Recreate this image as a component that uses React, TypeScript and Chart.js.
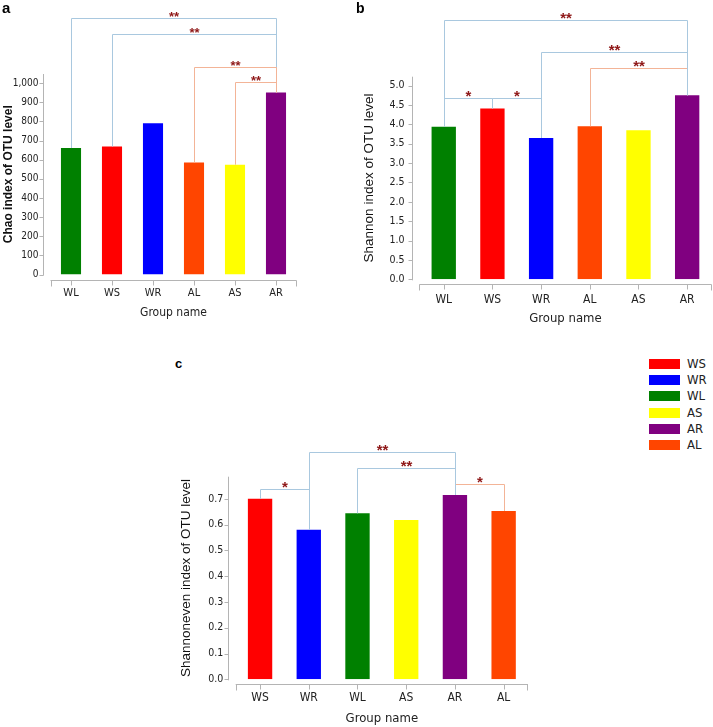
import React, { useEffect, useRef } from "react";
import { Chart, registerables } from "chart.js";

Chart.register(...registerables);

// ---------- data ----------
const chaoGroups = ["WL", "WS", "WR", "AL", "AS", "AR"];
const chaoValues = [661, 669, 791, 586, 574, 951];
const chaoTicks = [0, 100, 200, 300, 400, 500, 600, 700, 800, 900, 1000];

const shannonGroups = ["WL", "WS", "WR", "AL", "AS", "AR"];
const shannonValues = [3.94, 4.41, 3.65, 3.95, 3.85, 4.75];
const shannonTicks = [0, 0.5, 1, 1.5, 2, 2.5, 3, 3.5, 4, 4.5, 5];

const evenGroups = ["WS", "WR", "WL", "AS", "AR", "AL"];
const evenValues = [0.7, 0.58, 0.644, 0.618, 0.715, 0.653];
const evenTicks = [0, 0.1, 0.2, 0.3, 0.4, 0.5, 0.6, 0.7];

const legendGroups = ["WS", "WR", "WL", "AS", "AR", "AL"];

const groupColors: Record<string, string> = {
  WL: "#008000",
  WS: "#ff0000",
  WR: "#0000ff",
  AL: "#ff4500",
  AS: "#ffff00",
  AR: "#800080",
};

type Bracket = { from: string; to: string; level: number; mark: string; tone: "blue" | "orange" };

// significance brackets (level = height in data units)
const chaoBrackets: Bracket[] = [
  { from: "WL", to: "AR", level: 1339, mark: "**", tone: "blue" },
  { from: "WS", to: "AR", level: 1256, mark: "**", tone: "blue" },
  { from: "AL", to: "AR", level: 1086, mark: "**", tone: "orange" },
  { from: "AS", to: "AR", level: 1006, mark: "**", tone: "orange" },
];
const shannonBrackets: Bracket[] = [
  { from: "AL", to: "AR", level: 5.45, mark: "**", tone: "orange" },
  { from: "WL", to: "WS", level: 4.67, mark: "*", tone: "blue" },
  { from: "WS", to: "WR", level: 4.67, mark: "*", tone: "blue" },
  { from: "WR", to: "AR", level: 5.86, mark: "**", tone: "blue" },
  { from: "WL", to: "AR", level: 6.69, mark: "**", tone: "blue" },
];
const evenBrackets: Bracket[] = [
  { from: "AR", to: "AL", level: 0.756, mark: "*", tone: "orange" },
  { from: "WS", to: "WR", level: 0.739, mark: "*", tone: "blue" },
  { from: "WL", to: "AR", level: 0.818, mark: "**", tone: "blue" },
  { from: "WR", to: "AR", level: 0.882, mark: "**", tone: "blue" },
];

// ---------- styles ----------
const NARROW = "'Liberation Sans Narrow', 'DejaVu Sans Condensed', 'Liberation Sans', sans-serif";
const SANS = "'Liberation Sans', Arial, sans-serif";
const AXIS_COLOR = "#b4b4b4";
const TONES = { blue: "#a9c8df", orange: "#f3b497" };
const STAR_COLOR = "#8e1717";

type PanelSpec = {
  left: number;
  top: number;
  width: number;
  height: number;
  groups: string[];
  values: number[];
  ticks: number[];
  max: number;
  fmt: (v: number) => string;
  yTitle: string;
  yTitleBold: boolean;
  yTitleSize: number;
  yTitlePad: number;
  tickSize: number;
  xLabelSize: number;
  xTitleSize: number;
  pad: { top: number; left: number; right: number; bottom: number };
  yWidth: number;
  yTickPad: number;
  xHeight: number;
  xTickPad: number;
  barPct: number;
  brackets: Bracket[];
  starSize: number;
};

function decorPlugin(spec: PanelSpec) {
  return {
    id: "decor",
    afterDraw(chart: any) {
      const ctx: CanvasRenderingContext2D = chart.ctx;
      const xs = chart.scales.x;
      const ys = chart.scales.y;
      const { left, right, top, bottom } = chart.chartArea;
      ctx.save();
      ctx.lineWidth = 1;
      ctx.strokeStyle = AXIS_COLOR;
      ctx.beginPath();
      const ax = Math.round(left - 7.5) + 0.5;
      ctx.moveTo(ax, top);
      ctx.lineTo(ax, bottom + 1);
      for (const t of ys.ticks) {
        const py = Math.round(ys.getPixelForValue(t.value)) + 0.5;
        ctx.moveTo(ax - 4, py);
        ctx.lineTo(ax, py);
      }
      const ay = Math.round(bottom + 5) + 0.5;
      ctx.moveTo(left, ay);
      ctx.lineTo(right, ay);
      ctx.moveTo(Math.round(left) + 0.5, ay);
      ctx.lineTo(Math.round(left) + 0.5, ay + 6);
      ctx.moveTo(Math.round(right) - 0.5, ay);
      ctx.lineTo(Math.round(right) - 0.5, ay + 6);
      spec.groups.forEach((_g, i) => {
        const px = Math.round(xs.getPixelForValue(i)) + 0.5;
        ctx.moveTo(px, ay);
        ctx.lineTo(px, ay + 5);
      });
      ctx.stroke();

      for (const b of spec.brackets) {
        const i1 = spec.groups.indexOf(b.from);
        const i2 = spec.groups.indexOf(b.to);
        const x1 = Math.round(xs.getPixelForValue(i1)) + 0.5;
        const x2 = Math.round(xs.getPixelForValue(i2)) + 0.5;
        const y1 = ys.getPixelForValue(spec.values[i1]);
        const y2 = ys.getPixelForValue(spec.values[i2]);
        const yl = Math.round(ys.getPixelForValue(b.level)) + 0.5;
        ctx.strokeStyle = TONES[b.tone];
        ctx.beginPath();
        ctx.moveTo(x1, y1);
        ctx.lineTo(x1, yl);
        ctx.lineTo(x2, yl);
        ctx.lineTo(x2, y2);
        ctx.stroke();
        ctx.fillStyle = STAR_COLOR;
        ctx.font = `bold ${spec.starSize}px ${SANS}`;
        ctx.textAlign = "center";
        ctx.textBaseline = "alphabetic";
        ctx.fillText(b.mark, (x1 + x2) / 2, yl + 1 + spec.starSize * 0.1);
      }
      ctx.restore();
    },
  };
}

function BarPanel({ spec }: { spec: PanelSpec }) {
  const ref = useRef<HTMLCanvasElement>(null);
  useEffect(() => {
    const canvas = ref.current;
    if (!canvas) return;
    const chart = new Chart(canvas, {
      type: "bar",
      data: {
        labels: spec.groups,
        datasets: [
          {
            data: spec.values,
            backgroundColor: spec.groups.map((g) => groupColors[g]),
            borderWidth: 0,
            categoryPercentage: 1,
            barPercentage: spec.barPct,
          },
        ],
      },
      options: {
        responsive: false,
        animation: false,
        devicePixelRatio: 1,
        layout: { padding: spec.pad },
        plugins: { legend: { display: false }, tooltip: { enabled: false } },
        scales: {
          x: {
            offset: true,
            grid: { display: false, drawTicks: false },
            border: { display: false },
            ticks: {
              padding: spec.xTickPad,
              maxRotation: 0,
              autoSkip: false,
              color: "#222",
              font: { family: NARROW, size: spec.xLabelSize },
            },
            title: {
              display: true,
              text: "Group name",
              color: "#222",
              padding: { top: 0, bottom: 0 },
              font: { family: NARROW, size: spec.xTitleSize },
            },
            afterFit: (s: any) => {
              s.height = spec.xHeight;
            },
          },
          y: {
            min: 0,
            max: spec.max,
            grid: { display: false, drawTicks: false },
            border: { display: false },
            afterBuildTicks: (s: any) => {
              s.ticks = spec.ticks.map((v) => ({ value: v }));
            },
            ticks: {
              padding: spec.yTickPad,
              color: "#222",
              font: { family: NARROW, size: spec.tickSize },
              callback: (v: any) => spec.fmt(Number(v)),
            },
            title: {
              display: true,
              text: spec.yTitle,
              color: "#111",
              padding: { top: spec.yTitlePad, bottom: 0 },
              font: { family: SANS, size: spec.yTitleSize, weight: spec.yTitleBold ? "bold" : "normal" },
            },
            afterFit: (s: any) => {
              s.width = spec.yWidth;
            },
          },
        },
      } as any,
      plugins: [decorPlugin(spec)],
    });
    return () => chart.destroy();
  }, [spec]);
  return (
    <canvas
      ref={ref}
      width={spec.width}
      height={spec.height}
      style={{ position: "absolute", left: spec.left, top: spec.top, width: spec.width, height: spec.height }}
    />
  );
}

const panelA: PanelSpec = {
  left: 0,
  top: 0,
  width: 305,
  height: 330,
  groups: chaoGroups,
  values: chaoValues,
  ticks: chaoTicks,
  max: 1048,
  fmt: (v) => v.toLocaleString("en-US"),
  yTitle: "Chao index of OTU level",
  yTitleBold: true,
  yTitleSize: 12,
  yTitlePad: 1,
  tickSize: 10,
  xLabelSize: 11,
  xTitleSize: 12,
  pad: { top: 74, left: 0, right: 8.5, bottom: 330 - 320.2 },
  yWidth: 50.5,
  yTickPad: 12,
  xHeight: 45.7,
  xTickPad: 12,
  barPct: 0.49,
  brackets: chaoBrackets,
  starSize: 13,
};

const panelB: PanelSpec = {
  left: 355,
  top: 0,
  width: 358,
  height: 330,
  groups: shannonGroups,
  values: shannonValues,
  ticks: shannonTicks,
  max: 5.23,
  fmt: (v) => v.toFixed(1),
  yTitle: "Shannon index of OTU level",
  yTitleBold: false,
  yTitleSize: 13.5,
  yTitlePad: 6,
  tickSize: 10.5,
  xLabelSize: 12,
  xTitleSize: 13,
  pad: { top: 76.7, left: 0, right: 1.5, bottom: 330 - 326.1 },
  yWidth: 64.4,
  yTickPad: 15,
  xHeight: 46.8,
  xTickPad: 13.5,
  barPct: 0.5,
  brackets: shannonBrackets,
  starSize: 15,
};

const panelC: PanelSpec = {
  left: 170,
  top: 380,
  width: 370,
  height: 347,
  groups: evenGroups,
  values: evenValues,
  ticks: evenTicks,
  max: 0.786,
  fmt: (v) => v.toFixed(1),
  yTitle: "Shannoneven index of OTU level",
  yTitleBold: false,
  yTitleSize: 13.5,
  yTitlePad: 8,
  tickSize: 10.5,
  xLabelSize: 12,
  xTitleSize: 13,
  pad: { top: 96.7, left: 0, right: 12, bottom: 0.9 },
  yWidth: 65.7,
  yTickPad: 12.4,
  xHeight: 46.8,
  xTickPad: 11.8,
  barPct: 0.5,
  brackets: evenBrackets,
  starSize: 15,
};

function Legend() {
  return (
    <div style={{ position: "absolute", left: 649, top: 359 }}>
      {legendGroups.map((g, i) => (
        <div
          key={g}
          style={{ position: "absolute", left: 0, top: i * 16.2, height: 10, width: 70, display: "flex", alignItems: "center" }}
        >
          <div style={{ width: 31, height: 10, background: groupColors[g] }} />
          <span style={{ marginLeft: 7, fontFamily: NARROW, fontSize: 13, color: "#222", lineHeight: "10px" }}>{g}</span>
        </div>
      ))}
    </div>
  );
}

function PanelLabel({ text, left, top, size }: { text: string; left: number; top: number; size: number }) {
  return (
    <div style={{ position: "absolute", left, top, fontFamily: SANS, fontWeight: "bold", fontSize: size, lineHeight: "normal", color: "#000" }}>
      {text}
    </div>
  );
}

export default function App() {
  return (
    <div style={{ position: "absolute", left: 0, top: 0, width: 713, height: 727, background: "#fff", overflow: "hidden" }}>
      <BarPanel spec={panelA} />
      <BarPanel spec={panelB} />
      <BarPanel spec={panelC} />
      <Legend />
      <PanelLabel text="a" left={2} top={-1} size={15} />
      <PanelLabel text="b" left={356} top={0} size={14} />
      <PanelLabel text="c" left={175} top={356} size={13} />
    </div>
  );
}
